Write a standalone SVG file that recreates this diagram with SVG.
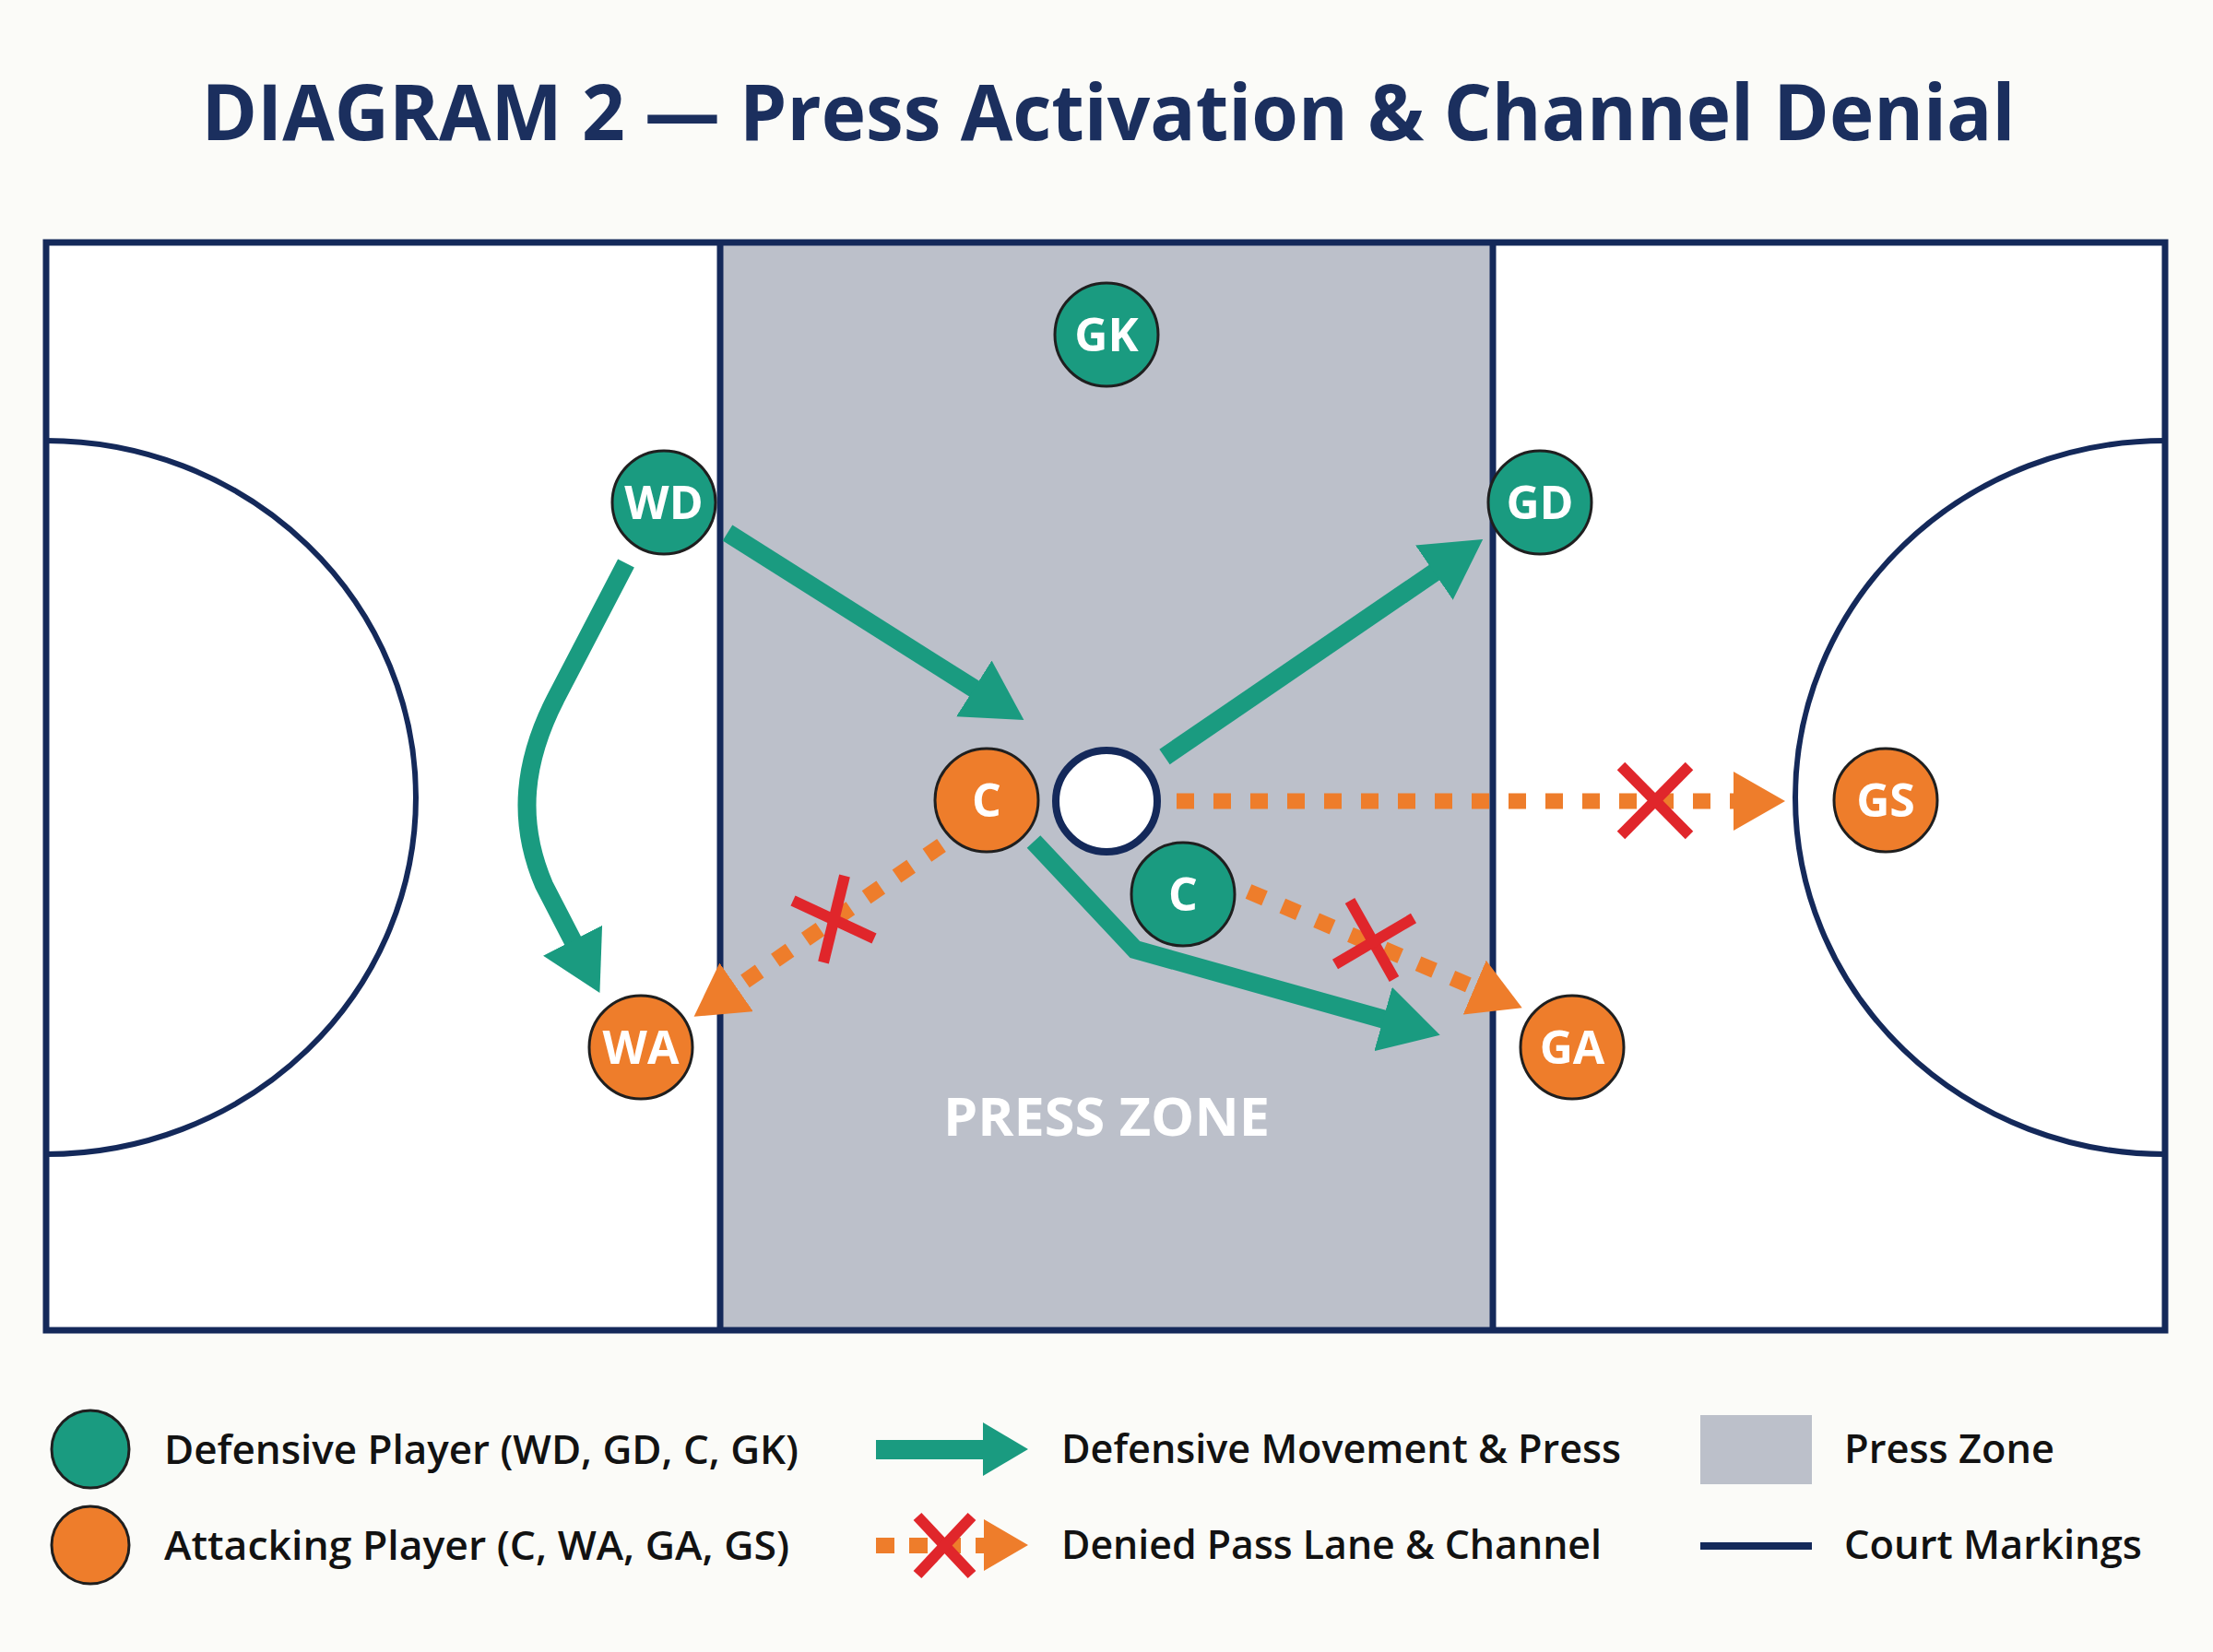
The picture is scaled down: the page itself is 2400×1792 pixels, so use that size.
<svg xmlns="http://www.w3.org/2000/svg" width="2400" height="1792" viewBox="0 0 2400 1792">
  <defs>
    <style>
      .court { fill: none; stroke: #14295a; stroke-width: 7; }
      .arc { fill: none; stroke: #14295a; stroke-width: 6; }
      .def { fill: #1a9b80; stroke: #1f1f1f; stroke-width: 3; }
      .att { fill: #ee7d2b; stroke: #1f1f1f; stroke-width: 3; }
      .plabel { font-family: "Open Sans", "Liberation Sans", sans-serif; font-weight: 700; font-size: 50px; fill: #ffffff; text-anchor: middle; }
      .move { fill: none; stroke: #1a9b80; stroke-width: 20; stroke-linejoin: miter; }
      .lane { fill: none; stroke: #ee7d2b; stroke-width: 17; stroke-dasharray: 19 21; }
      .cross { stroke: #e0262b; stroke-width: 12; stroke-linecap: butt; }
      .legend { font-family: "Open Sans", "Liberation Sans", sans-serif; font-weight: 600; font-size: 44px; fill: #121212; }
    </style>
    <marker id="tealHead" markerUnits="userSpaceOnUse" viewBox="0 0 64 72" markerWidth="64" markerHeight="72" refX="2" refY="36" orient="auto">
      <path d="M0 0 L64 36 L0 72 Z" fill="#1a9b80"/>
    </marker>
    <marker id="orangeHead" markerUnits="userSpaceOnUse" viewBox="0 0 56 64" markerWidth="56" markerHeight="64" refX="2" refY="32" orient="auto">
      <path d="M0 0 L56 32 L0 64 Z" fill="#ee7d2b"/>
    </marker>
  </defs>

  <rect x="0" y="0" width="2400" height="1792" fill="#fbfbf8"/>

  <text x="1202" y="152" font-family="'Open Sans', 'Liberation Sans', sans-serif" font-weight="700" font-size="84" fill="#1b2f5e" text-anchor="middle" textLength="1967" lengthAdjust="spacingAndGlyphs">DIAGRAM 2 — Press Activation &amp; Channel Denial</text>

  <g id="court">
    <rect x="50" y="263" width="2298" height="1180" fill="#ffffff"/>
    <rect id="press-zone" x="781" y="263" width="838" height="1180" fill="#bcc0ca"/>
    <rect class="court" x="50" y="263" width="2298" height="1180"/>
    <line class="court" x1="781" y1="263" x2="781" y2="1443"/>
    <line class="court" x1="1619" y1="263" x2="1619" y2="1443"/>
    <path class="arc" d="M50 478 A401 387 0 0 1 50 1252"/>
    <path class="arc" d="M2348 478 A401 387 0 0 0 2348 1252"/>
    <text x="1200" y="1232" font-family="'Open Sans', 'Liberation Sans', sans-serif" font-weight="700" font-size="58" fill="#ffffff" text-anchor="middle" textLength="354" lengthAdjust="spacingAndGlyphs">PRESS ZONE</text>
  </g>

  <g id="connectors">
    <path class="move" d="M679 611 L603 757 C568 825 560 890 590 960 L622 1022" marker-end="url(#tealHead)"/>
    <path class="move" d="M789 578 L1058 748" marker-end="url(#tealHead)"/>
    <path class="move" d="M1263 821 L1557 620" marker-end="url(#tealHead)"/>
    <path class="move" d="M1121 913 L1231 1030 L1502 1106" marker-end="url(#tealHead)"/>
    <path class="lane" d="M1276 869 L1882 869" marker-end="url(#orangeHead)"/>
    <path class="lane" d="M1021 917 L797 1072" marker-end="url(#orangeHead)"/>
    <path class="lane" d="M1354 967 L1601 1072" marker-end="url(#orangeHead)"/>
    <g id="x-gs">
      <line class="cross" x1="1758" y1="831" x2="1832" y2="906"/>
      <line class="cross" x1="1832" y1="831" x2="1758" y2="906"/>
    </g>
    <g id="x-wa">
      <line class="cross" x1="860" y1="977" x2="948" y2="1018"/>
      <line class="cross" x1="916" y1="950" x2="893" y2="1044"/>
    </g>
    <g id="x-ga">
      <line class="cross" x1="1464" y1="977" x2="1512" y2="1062"/>
      <line class="cross" x1="1533" y1="996" x2="1448" y2="1046"/>
    </g>
  </g>

  <g id="ball">
    <circle cx="1200" cy="869" r="55" fill="#ffffff" stroke="#14295a" stroke-width="8"/>
  </g>

  <g id="GK"><circle class="def" cx="1200" cy="363" r="56"/><text class="plabel" x="1200" y="381">GK</text></g>
  <g id="WD"><circle class="def" cx="720" cy="545" r="56"/><text class="plabel" x="720" y="563">WD</text></g>
  <g id="GD"><circle class="def" cx="1670" cy="545" r="56"/><text class="plabel" x="1670" y="563">GD</text></g>
  <g id="C-def"><circle class="def" cx="1283" cy="970" r="56"/><text class="plabel" x="1283" y="988">C</text></g>
  <g id="C-att"><circle class="att" cx="1070" cy="868" r="56"/><text class="plabel" x="1070" y="886">C</text></g>
  <g id="WA"><circle class="att" cx="695" cy="1136" r="56"/><text class="plabel" x="695" y="1154">WA</text></g>
  <g id="GA"><circle class="att" cx="1705" cy="1136" r="56"/><text class="plabel" x="1705" y="1154">GA</text></g>
  <g id="GS"><circle class="att" cx="2045" cy="868" r="56"/><text class="plabel" x="2045" y="886">GS</text></g>

  <g id="legend">
    <circle class="def" cx="98" cy="1572" r="42"/>
    <text class="legend" x="178" y="1588" textLength="688" lengthAdjust="spacingAndGlyphs">Defensive Player (WD, GD, C, GK)</text>
    <circle class="att" cx="98" cy="1676" r="42"/>
    <text class="legend" x="178" y="1692" textLength="678" lengthAdjust="spacingAndGlyphs">Attacking Player (C, WA, GA, GS)</text>

    <rect x="950" y="1562" width="118" height="21" fill="#1a9b80"/>
    <path d="M1066 1543 L1115 1572 L1066 1601 Z" fill="#1a9b80"/>
    <text class="legend" x="1151" y="1587" textLength="607" lengthAdjust="spacingAndGlyphs">Defensive Movement &amp; Press</text>

    <rect x="950" y="1668" width="20" height="17" fill="#ee7d2b"/>
    <rect x="986" y="1668" width="20" height="17" fill="#ee7d2b"/>
    <rect x="1022" y="1668" width="20" height="17" fill="#ee7d2b"/>
    <rect x="1058" y="1668" width="10" height="17" fill="#ee7d2b"/>
    <path d="M1067 1648 L1115 1676 L1067 1704 Z" fill="#ee7d2b"/>
    <line class="cross" x1="995" y1="1645" x2="1054" y2="1708" stroke-width="11"/>
    <line class="cross" x1="1054" y1="1645" x2="995" y2="1708" stroke-width="11"/>
    <text class="legend" x="1151" y="1691" textLength="586" lengthAdjust="spacingAndGlyphs">Denied Pass Lane &amp; Channel</text>

    <rect x="1844" y="1535" width="121" height="75" fill="#bcc0ca"/>
    <text class="legend" x="2000" y="1587" textLength="228" lengthAdjust="spacingAndGlyphs">Press Zone</text>
    <line x1="1844" y1="1677" x2="1965" y2="1677" stroke="#14295a" stroke-width="8"/>
    <text class="legend" x="2000" y="1691" textLength="323" lengthAdjust="spacingAndGlyphs">Court Markings</text>
  </g>
</svg>
